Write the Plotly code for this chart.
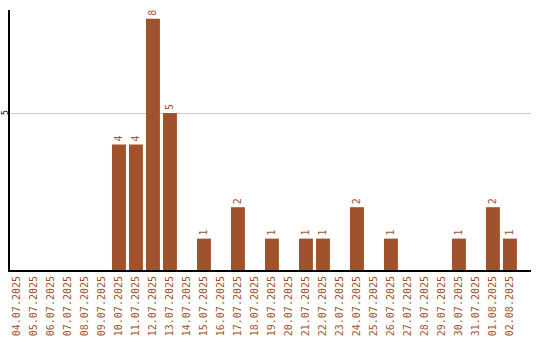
import plotly.graph_objects as go

dates = ["04.07.2025","05.07.2025","06.07.2025","07.07.2025","08.07.2025","09.07.2025",
         "10.07.2025","11.07.2025","12.07.2025","13.07.2025","14.07.2025","15.07.2025",
         "16.07.2025","17.07.2025","18.07.2025","19.07.2025","20.07.2025","21.07.2025",
         "22.07.2025","23.07.2025","24.07.2025","25.07.2025","26.07.2025","27.07.2025",
         "28.07.2025","29.07.2025","30.07.2025","31.07.2025","01.08.2025","02.08.2025"]
values = [0,0,0,0,0,0,4,4,8,5,0,1,0,2,0,1,0,1,1,0,2,0,1,0,0,0,1,0,2,1]
labels = [str(v) if v else "" for v in values]
y_ticks = [5]

color = "#a0522d"
font = "DejaVu Sans Mono"

fig = go.Figure(go.Bar(
    x=list(range(len(dates))), y=values, marker_color=color, marker_line_width=0,
    width=0.82, text=labels, textposition="outside", textangle=-90,
    textfont=dict(family=font, size=10, color=color), cliponaxis=False,
))
fig.update_layout(
    width=540, height=340, margin=dict(l=10, r=9, t=10, b=70),
    paper_bgcolor="white", plot_bgcolor="white", showlegend=False,
    xaxis=dict(range=[-0.41, 30.24], tickmode="array", tickvals=list(range(len(dates))),
               ticktext=dates, tickangle=-90, tickfont=dict(family=font, size=10, color=color),
               showline=True, linecolor="black", linewidth=2, showgrid=False, ticks="",
               zeroline=False, fixedrange=True, automargin=False),
    yaxis=dict(range=[0, 8.28], tickvals=y_ticks, showticklabels=False, showgrid=True,
               gridcolor="#cccccc", gridwidth=1, showline=True, linecolor="black",
               linewidth=2, zeroline=False, ticks="", automargin=False),
)
for t in y_ticks:
    fig.add_annotation(x=0, xref="paper", xshift=-5, y=t, yref="y", text=str(t),
                       showarrow=False, textangle=-90, xanchor="center", yanchor="middle",
                       font=dict(family=font, size=8, color="black"))
fig.write_html("out.html")
